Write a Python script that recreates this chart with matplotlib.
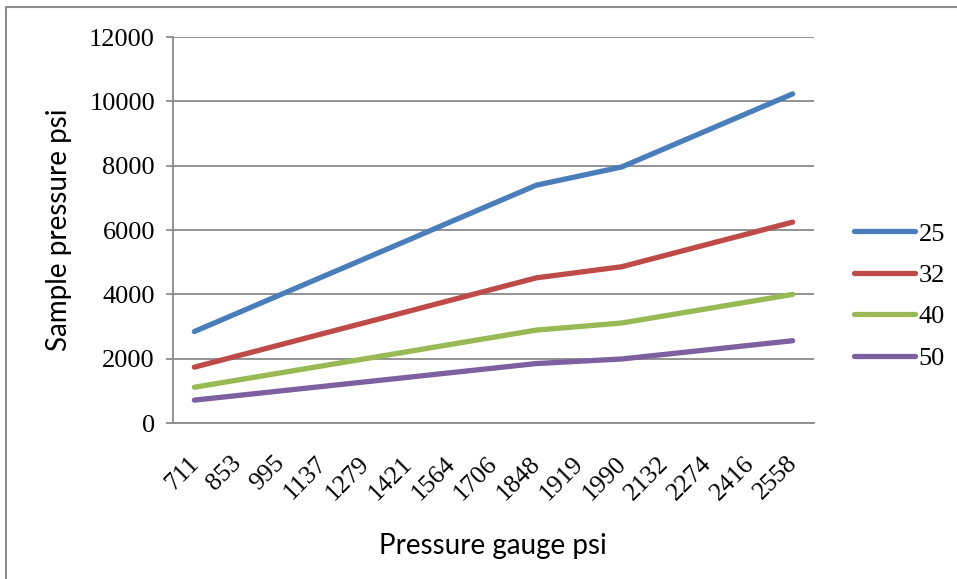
import numpy as np
import matplotlib.pyplot as plt
import matplotlib.transforms as mtransforms
from matplotlib.patches import Rectangle

gauge = ["711", "853", "995", "1137", "1279", "1421", "1564", "1706",
         "1848", "1919", "1990", "2132", "2274", "2416", "2558"]

d25 = [2844, 3412, 3980, 4548, 5116, 5684, 6256, 6824, 7392, 7676, 7960,
       8528, 9096, 9664, 10232]
d32 = [1736, 2082, 2429, 2776, 3122, 3469, 3818, 4165, 4512, 4685, 4858,
       5205, 5552, 5898, 6245]
d40 = [1111, 1333, 1555, 1777, 1998, 2220, 2444, 2666, 2888, 2998, 3109,
       3331, 3553, 3775, 3997]
d50 = [711, 853, 995, 1137, 1279, 1421, 1564, 1706, 1848, 1919, 1990,
       2132, 2274, 2416, 2558]

series = [("25", d25, "#4A7EBB"), ("32", d32, "#BE4B48"),
          ("40", d40, "#98B954"), ("50", d50, "#7D60A0")]

W, H = 957, 579
fig = plt.figure(figsize=(W / 100, H / 100), dpi=100)
ax = fig.add_axes([173 / W, 1 - 423 / H, (814 - 173) / W, (423 - 37) / H])

# outer chart frame (cut off at right and bottom)
fig.patches.append(Rectangle((6 / W, -0.1), 1.2, 1 - 7 / H + 0.1,
                             transform=fig.transFigure, fill=False,
                             edgecolor="#8c8c8c", linewidth=1.5))

x = np.arange(len(gauge))
for name, vals, col in series:
    ax.plot(x, vals, color=col, linewidth=3.8, solid_capstyle="round",
            solid_joinstyle="round", label=name)

ax.set_xlim(-0.5, len(gauge) - 0.5)
ax.set_ylim(0, 12000)
ax.set_yticks(range(0, 12001, 2000))
ax.yaxis.grid(True, color="#8a8a8a", linewidth=1.3)
ax.set_axisbelow(True)

for s in ["top", "right"]:
    ax.spines[s].set_visible(False)
for s in ["left", "bottom"]:
    ax.spines[s].set_color("#8a8a8a")
    ax.spines[s].set_linewidth(1.3)

serif = "Liberation Serif"
ax.set_xticks(x)
ax.set_xticklabels(gauge, rotation=45, ha="right", rotation_mode="anchor",
                   family=serif, fontsize=18.5)
ax.tick_params(axis="x", length=0, pad=21)
shift = mtransforms.ScaledTranslation(-7 / 100, 0, fig.dpi_scale_trans)
for t in ax.get_xticklabels():
    t.set_transform(t.get_transform() + shift)
ax.tick_params(axis="y", length=5, color="#8a8a8a", width=1.3, pad=8,
               labelsize=19)
for t in ax.get_yticklabels():
    t.set_family(serif)

ax.set_xlabel("Pressure gauge psi", family="Lato", fontsize=20)
ax.set_ylabel("Sample pressure psi", family="Lato", fontsize=20, labelpad=12)
ax.xaxis.set_label_coords((493 - 173) / (814 - 173), -(533 - 423) / (423 - 37))

ax.legend(loc="center left", bbox_to_anchor=(854 / W, 1 - 296 / H),
          bbox_transform=fig.transFigure, borderaxespad=0, borderpad=0,
          frameon=False, prop={"family": serif, "size": 19},
          handlelength=2.3, handletextpad=0.15, labelspacing=0.68)

fig.savefig("out.png", dpi=100)
